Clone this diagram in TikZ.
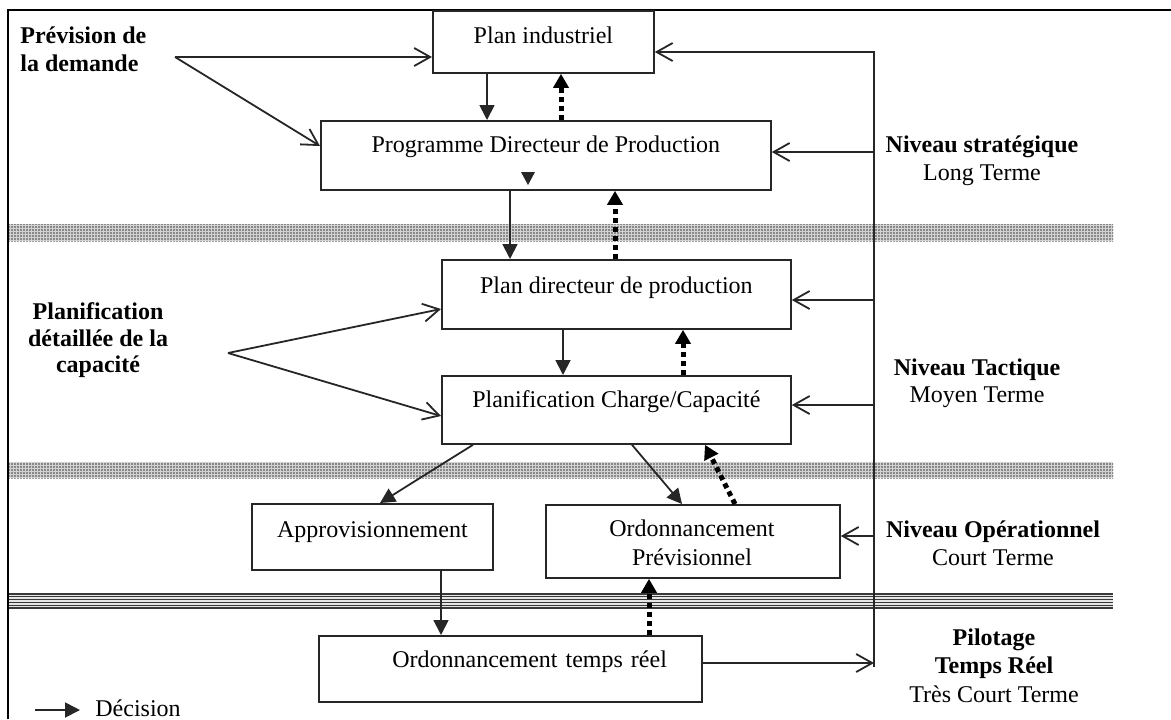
\documentclass[tikz,border=0pt]{standalone}
\usepackage{fontspec}
\setmainfont{Liberation Serif}
\usetikzlibrary{arrows.meta,patterns.meta}

\begin{document}
\begin{tikzpicture}[x=0.5pt,y=-0.5pt,
  font=\fontsize{12pt}{13.8pt}\selectfont,
  box/.style={draw=black!85, line width=0.9pt, inner ysep=0pt, inner xsep=0pt, anchor=north west},
  lbl/.style={inner sep=0pt, anchor=base},
  bold/.style={font=\fontsize{12pt}{13.8pt}\selectfont\bfseries},
  dec/.style={draw=black!85, line width=0.9pt, -{Triangle[length=7.5pt,width=7.5pt]}},
  fb/.style={line width=2.5pt, dash pattern=on 2.5pt off 2pt, -{Triangle[length=7pt,width=7.5pt]}},
  info/.style={draw=black!85, line width=0.9pt, -{Straight Barb[length=8pt,width=9pt]}},
  dotband/.style={fill=gray!35},
  dotgrain/.style={pattern={Dots[distance=1.5pt, radius=0.45pt]}, pattern color=gray!50!black}]
\useasboundingbox (0,0) rectangle (1171,719);

% horizon separators
\fill[dotband] (8,224) rectangle (1113,241);
\fill[dotgrain] (8,224) rectangle (1113,241);
\fill[dotband] (8,462) rectangle (1113,478);
\fill[dotgrain] (8,462) rectangle (1113,478);
\fill[gray!20] (8,593) rectangle (1113,608);
\foreach \yy in {594,596.8,599.6,602.4,605.2,608}
  \draw[gray!45!black, line width=0.6pt] (8,\yy) -- (1113,\yy);

% frame
\draw[line width=1.4pt] (8,719) -- (8,10) -- (1171,10);

% planning boxes
\node[box, minimum width=110.5pt, text height=16.5pt, text depth=14.5pt] (PI) at (432,10) {Plan industriel};
\node[box, minimum width=225pt, text height=16pt, text depth=18.5pt] (PDP) at (320,120) {Programme Directeur de Production};
\node[box, minimum width=174.5pt, text height=17pt, text depth=17.5pt] (PD) at (441,259) {Plan directeur de production};
\node[box, minimum width=174.5pt, text height=16pt, text depth=18pt] (PCC) at (441,375) {Planification Charge/Capacité};
\node[box, minimum width=120.5pt, text height=17pt, text depth=16pt] (APP) at (251,503) {Approvisionnement};
\node[box, minimum width=147pt, minimum height=36.5pt] (OP) at (545,504) {};
\node[lbl] (OPa) at (692,536) {Ordonnancement};
\node[lbl] (OPb) at (692,565) {Prévisionnel};
\node[box, text width=156.5pt, align=right, inner xsep=17.5pt, text height=16pt, text depth=17pt] (OTR) at (318,635) {Ordonnancement temps réel};

% small marker inside the PDP box
\fill[black!85] (521,172) -- (535,172) -- (528,185) -- cycle;

% decisions going down, feedback going up
\draw[dec] (PI.south -| 487,0) -- (PDP.north -| 487,0);
\draw[fb] (PDP.north -| 561,0) -- (PI.south -| 561,0);
\draw[dec] (PDP.south -| 510,0) -- (PD.north -| 510,0);
\draw[fb] (PD.north -| 615,0) -- (PDP.south -| 615,0);
\draw[dec] (PD.south -| 563,0) -- (PCC.north -| 563,0);
\draw[fb] (PCC.north -| 683,0) -- (PD.south -| 683,0);
\draw[dec] (PCC.south -| 473,0) -- (APP.north -| 380,0);
\draw[dec] (PCC.south -| 632,0) -- (OP.north -| 682,0);
\draw[fb] (OP.north -| 735,0) -- (PCC.south -| 705,0);
\draw[dec] (APP.south -| 441,0) -- (OTR.north -| 441,0);
\draw[fb] (OTR.north -| 649,0) -- (OP.south -| 649,0);

% return bus on the right
\coordinate (bustop) at (874,52);
\coordinate (busbot) at (874,663);
\coordinate (busend) at (874,667);
\draw[info] (OTR.east |- busbot) -- (busbot);
\draw[info] (busend) -- (bustop) -- (bustop -| PI.east);
\coordinate (b1) at (874,152);
\coordinate (b2) at (874,300);
\coordinate (b3) at (874,405);
\coordinate (b4) at (874,536);
\draw[info] (b1) -- (b1 -| PDP.east);
\draw[info] (b2) -- (b2 -| PD.east);
\draw[info] (b3) -- (b3 -| PCC.east);
\draw[info] (b4) -- (b4 -| OP.east);

% inputs on the left
\coordinate (prev) at (175,57);
\draw[info] (prev) -- (prev -| PI.west);
\draw[info] (prev) -- (PDP.west |- 0,146);
\coordinate (plan) at (228,353);
\draw[info] (plan) -- (PD.west |- 0,309);
\draw[info] (plan) -- (PCC.west |- 0,416);

\node[lbl, bold, anchor=base west] (prevA) at (20,43) {Prévision de};
\node[lbl, bold, anchor=base west] (prevB) at (20,71) {la demande};
\node[lbl, bold] (planA) at (98,319) {Planification};
\node[lbl, bold] (planB) at (98,346) {détaillée de la};
\node[lbl, bold] (planC) at (98,372) {capacité};

% level labels
\node[lbl, bold] (strA) at (982,152) {Niveau stratégique};
\node[lbl] (strB) at (982,180) {Long Terme};
\node[lbl, bold] (tacA) at (977,375) {Niveau Tactique};
\node[lbl] (tacB) at (977,402) {Moyen Terme};
\node[lbl, bold] (opeA) at (993,537) {Niveau Opérationnel};
\node[lbl] (opeB) at (993,565) {Court Terme};
\node[lbl, bold] (pilA) at (994,645) {Pilotage};
\node[lbl, bold] (pilB) at (994,673) {Temps Réel};
\node[lbl] (pilC) at (994,702) {Très Court Terme};

% legend
\coordinate (legA) at (35,710);
\coordinate (legB) at (80,710);
\draw[dec] (legA) -- (legB);
\node[lbl, anchor=base west] (legT) at (95,716) {Décision};
\end{tikzpicture}
\end{document}
